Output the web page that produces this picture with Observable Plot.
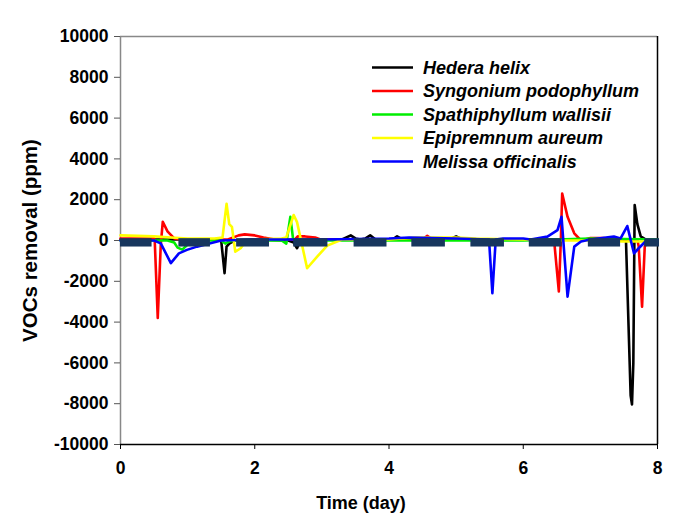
<!DOCTYPE html>
<html>
<head>
<meta charset="utf-8">
<script src="https://cdn.jsdelivr.net/npm/d3@7"></script>
<script src="https://cdn.jsdelivr.net/npm/@observablehq/plot@0.6"></script>
<style>
  html, body { margin: 0; padding: 0; background: #fff; }
  #chart { width: 688px; height: 522px; }
</style>
</head>
<body>
<div id="chart"></div>
<script>
const seriesNames = ["Hedera helix", "Syngonium podophyllum", "Spathiphyllum wallisii", "Epipremnum aureum", "Melissa officinalis"];
const seriesColors = ["#000000", "#ff0000", "#00ee00", "#ffff00", "#0000ff"];

const hederaDays = [0, 0.5, 1.0, 1.45, 1.50, 1.55, 1.58, 1.62, 1.7, 2.0, 2.5, 2.58, 2.63, 2.68, 3.0, 3.3, 3.43, 3.5, 3.57, 3.65, 3.72, 3.8, 4.05, 4.12, 4.2, 4.5, 4.9, 5.0, 5.1, 5.2, 5.5, 6.0, 6.5, 7.0, 7.4, 7.53, 7.60, 7.62, 7.64, 7.66, 7.70, 7.75, 7.85, 8.0];
const hederaVals = [50, 50, 50, 50, 0, -1600, -300, -150, 0, 50, 0, -100, -380, 0, 50, 50, 250, 100, 50, 100, 250, 50, 50, 200, 50, 50, 50, 200, 50, 50, 50, 50, 50, 50, 50, 50, -7600, -8040, -6000, 1740, 800, 200, 0, 0];

const syngoniumDays = [0, 0.3, 0.5, 0.51, 0.555, 0.60, 0.63, 0.70, 0.80, 0.9, 1.5, 1.6, 1.76, 1.85, 2.0, 2.13, 2.3, 2.6, 2.64, 2.75, 2.9, 2.98, 3.2, 4.0, 4.5, 4.57, 4.65, 5.0, 6.0, 6.46, 6.53, 6.56, 6.58, 6.66, 6.76, 6.86, 7.0, 7.2, 7.3, 7.7, 7.72, 7.77, 7.81, 7.85, 8.0];
const syngoniumVals = [100, 100, 100, 0, -3800, -200, 920, 450, 100, 50, 50, 50, 250, 300, 250, 150, 50, 50, 200, 200, 150, 50, 50, 50, 50, 230, 50, 50, 50, 0, -2500, 0, 2300, 1160, 350, 0, 120, 120, 50, 50, -300, -3240, -300, 0, 0];

const spathiphyllumDays = [0, 0.7, 0.8, 0.85, 0.92, 1.0, 1.2, 1.5, 1.56, 1.62, 1.7, 2.4, 2.47, 2.53, 2.57, 2.62, 3.0, 4.0, 5.0, 6.0, 7.0, 8.0];
const spathiphyllumVals = [0, 0, -100, -350, -450, -200, 0, 0, -150, -50, 0, 0, -150, 1160, 100, 0, 0, 0, 0, 0, 100, 50];

const epipremnumDays = [0, 0.5, 0.75, 1.0, 1.4, 1.52, 1.58, 1.62, 1.66, 1.71, 1.79, 1.86, 2.0, 2.4, 2.47, 2.58, 2.63, 2.78, 2.93, 3.08, 3.3, 4.0, 4.4, 5.0, 5.3, 6.0, 6.5, 7.0, 7.5, 8.0];
const epipremnumVals = [250, 200, 150, 100, 100, 150, 1800, 800, 670, -550, -380, -50, 50, 100, 150, 1250, 900, -1360, -790, -250, 50, 50, 150, 150, 100, 50, 0, 0, -50, -50];

const melissaDays = [0, 0.5, 0.6, 0.75, 0.87, 0.99, 1.14, 1.34, 1.5, 2.0, 3.0, 4.0, 4.3, 5.0, 5.49, 5.54, 5.59, 5.7, 6.0, 6.11, 6.36, 6.51, 6.57, 6.66, 6.76, 6.86, 7.0, 7.35, 7.45, 7.55, 7.65, 7.72, 7.82, 8.0];
const melissaVals = [0, 0, -140, -1110, -630, -460, -300, -140, 0, 50, 50, 100, 150, 100, 50, -2580, 50, 100, 100, 50, 190, 510, 1160, -2750, -300, -50, 50, 190, 100, 710, -630, -380, -50, 0];

// dark periods (navy bars)
const darkStart = [0, 0.87, 1.73, 2.58, 3.48, 4.34, 5.22, 6.09, 6.97, 7.81];
const darkEnd = [0.47, 1.34, 2.22, 3.09, 3.97, 4.84, 5.72, 6.58, 7.45, 8.03];
const darkTop = 90;
const darkBottom = -320;

const xTicks = [0, 2, 4, 6, 8];
const yTicks = [-10000, -8000, -6000, -4000, -2000, 0, 2000, 4000, 6000, 8000, 10000];

const seriesDays = [hederaDays, syngoniumDays, spathiphyllumDays, epipremnumDays, melissaDays];
const seriesVals = [hederaVals, syngoniumVals, spathiphyllumVals, epipremnumVals, melissaVals];

const rows = [];
seriesNames.forEach((name, i) => {
  seriesDays[i].forEach((d, j) => rows.push({name, day: d, val: seriesVals[i][j]}));
});
const bars = darkStart.map((s, i) => ({start: s, end: darkEnd[i], top: darkTop, bottom: darkBottom}));

const FONT = "'Liberation Sans', Arial, Helvetica, sans-serif";

const plot = Plot.plot({
  width: 688,
  height: 522,
  marginLeft: 120,
  marginRight: 31,
  marginTop: 36,
  marginBottom: 78,
  style: {fontFamily: FONT, background: "#fff", overflow: "visible"},
  x: {domain: [0, 8]},
  y: {domain: [-10000, 10000]},
  color: {domain: seriesNames, range: seriesColors},
  marks: [
    Plot.ruleY([10000], {stroke: "#888", strokeWidth: 1.5}),
    Plot.ruleX([0], {stroke: "#888", strokeWidth: 1.5}),
    Plot.ruleX([8], {stroke: "#000", strokeWidth: 1.5}),
    Plot.ruleY([-10000], {stroke: "#000", strokeWidth: 1.5}),
    Plot.axisY({ticks: yTicks, tickSize: 6, tickPadding: 6, tickFormat: d => String(d), fontSize: 17.5, fontWeight: "bold", label: null, stroke: "#555", color: "#000"}),
    Plot.axisX({ticks: xTicks, tickSize: 5, tickPadding: 12, tickFormat: d => String(d), fontSize: 17.5, fontWeight: "bold", label: null, color: "#000"}),
    Plot.line(rows, {x: "day", y: "val", z: "name", stroke: "name", strokeWidth: 2.6, curve: "linear"}),
    Plot.rect(bars, {x1: "start", x2: "end", y1: "bottom", y2: "top", fill: "#17365d", clip: false}),
    Plot.text(["VOCs removal (ppm)"], {frameAnchor: "left", textAnchor: "middle", dx: -90, rotate: -90, fontSize: 20.5, fontWeight: "bold", fill: "#000"}),
    Plot.text(["Time (day)"], {frameAnchor: "bottom", dx: -28, dy: 64, fontSize: 18, fontWeight: "bold", fill: "#000"})
  ]
});

// Legend
const svg = d3.select(plot);
const lg = svg.append("g").attr("class", "legend").attr("text-anchor", "start");
seriesNames.forEach((name, i) => {
  const y = 67.5 + i * 23.5;
  lg.append("line").attr("x1", 372).attr("x2", 413).attr("y1", y).attr("y2", y)
    .attr("stroke", seriesColors[i]).attr("stroke-width", 2.6);
  lg.append("text").attr("x", 423).attr("y", y).attr("dy", "0.36em")
    .attr("text-anchor", "start")
    .attr("font-family", FONT).attr("font-size", 18).attr("font-weight", "bold").attr("font-style", "italic")
    .attr("fill", "#000").text(name);
});

document.getElementById("chart").appendChild(plot);
</script>
</body>
</html>
